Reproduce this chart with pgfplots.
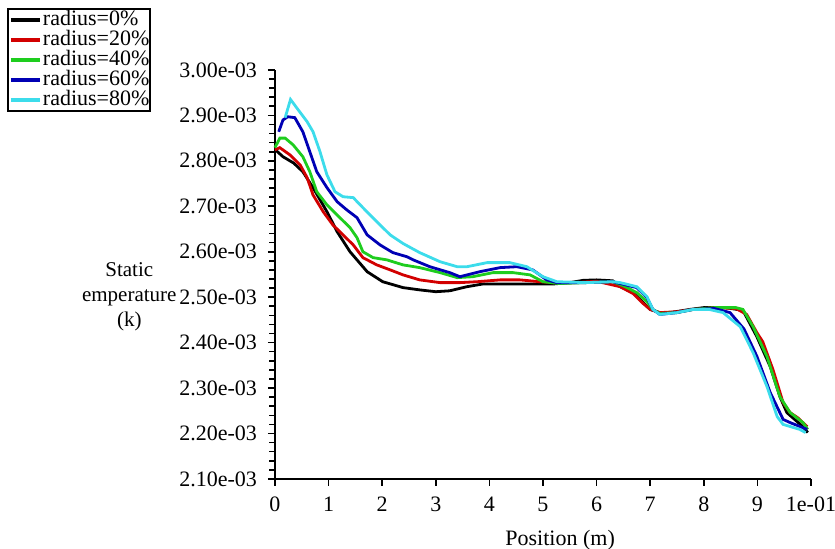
\documentclass[border=0pt]{standalone}
\usepackage{pgfplots}
\pgfplotsset{compat=1.18}
\usepackage{fontspec}
\setmainfont{Liberation Serif}
\definecolor{cRed}{RGB}{210,0,0}
\definecolor{cGreen}{RGB}{30,205,30}
\definecolor{cBlue}{RGB}{0,0,180}
\definecolor{cCyan}{RGB}{60,220,235}
\begin{document}
\begin{tikzpicture}
\begin{axis}[
  scale only axis,
  width=268pt, height=204.5pt,
  xmin=0, xmax=10, ymin=2.10, ymax=3.00,
  axis lines=left,
  axis line style={-, line width=1pt},
  tick align=outside,
  tick style={black, line width=0.8pt},
  major tick length=3.5pt,
  minor tick length=2.8pt,
  xtick={0,1,2,3,4,5,6,7,8,9,10},
  xticklabels={0,1,2,3,4,5,6,7,8,9,1e-01},
  ytick={2.1,2.2,2.3,2.4,2.5,2.6,2.7,2.8,2.9,3.0},
  yticklabels={2.10e-03,2.20e-03,2.30e-03,2.40e-03,2.50e-03,2.60e-03,2.70e-03,2.80e-03,2.90e-03,3.00e-03},
  minor y tick num=4,
  ticklabel style={font=\fontsize{11}{13}\selectfont},
  xticklabel style={yshift=-2pt},
  yticklabel style={xshift=-2pt},
  xlabel={Position (m)},
  xlabel style={font=\fontsize{11}{13}\selectfont, at={(rel axis cs:0.532,-0.149)}, anchor=center},
  ylabel={Static\\emperature\\(k)},
  ylabel style={font=\fontsize{10.5}{12.5}\selectfont, rotate=-90, align=center, at={(rel axis cs:-0.262,0.445)}, anchor=east, xshift=24.5pt},
  clip=false,
  legend cell align=left,
  legend style={at={(rel axis cs:-0.5,1.1516)}, anchor=north west, draw=black, line width=1pt,
    font=\fontsize{11}{12}\selectfont, inner sep=0.5pt, row sep=0pt,
    nodes={inner sep=0pt, text height=7.7pt, text depth=2.3pt},
    /tikz/every odd column/.style={column sep=0.5pt}},
  legend image code/.code={\draw[#1, line width=2pt] (0pt,0pt) -- (14.5pt,0pt);},
  every axis plot/.append style={line width=1.4pt},
]
\addplot[black] coordinates {(0,2.825) (0.15,2.809) (0.35,2.795) (0.52,2.776) (0.71,2.741) (0.97,2.688) (1.16,2.644) (1.40,2.600) (1.72,2.556) (2.01,2.534) (2.39,2.521) (2.70,2.516) (3.0,2.512) (3.26,2.514) (3.58,2.523) (3.88,2.529) (4.5,2.529) (5.19,2.529) (5.5,2.532) (5.75,2.537) (6.0,2.538) (6.3,2.536) (6.44,2.523) (6.68,2.510) (6.87,2.488) (7.0,2.473) (7.18,2.466) (7.37,2.466) (7.74,2.473) (8.0,2.477) (8.4,2.477) (8.73,2.471) (8.99,2.413) (9.24,2.347) (9.42,2.281) (9.55,2.246) (9.85,2.215) (9.94,2.202)};
\addlegendentry{radius=0\%}
\addplot[cRed] coordinates {(0,2.824) (0.09,2.829) (0.28,2.813) (0.47,2.791) (0.6,2.763) (0.71,2.725) (0.9,2.688) (1.08,2.659) (1.27,2.637) (1.46,2.615) (1.64,2.587) (1.9,2.571) (2.15,2.560) (2.39,2.549) (2.7,2.538) (3.08,2.532) (3.45,2.532) (3.77,2.534) (4.2,2.538) (4.57,2.538) (4.94,2.534) (5.19,2.532) (5.6,2.532) (6.0,2.535) (6.44,2.523) (6.68,2.508) (6.87,2.486) (7.0,2.473) (7.18,2.466) (7.5,2.468) (7.8,2.473) (8.2,2.477) (8.6,2.475) (8.8,2.462) (8.99,2.422) (9.1,2.402) (9.29,2.341) (9.48,2.268) (9.61,2.246) (9.75,2.235) (9.93,2.215)};
\addlegendentry{radius=20\%}
\addplot[cGreen] coordinates {(0,2.829) (0.09,2.85) (0.19,2.85) (0.34,2.835) (0.52,2.809) (0.65,2.776) (0.78,2.732) (0.97,2.703) (1.21,2.675) (1.4,2.653) (1.53,2.631) (1.64,2.600) (1.83,2.587) (2.09,2.582) (2.39,2.571) (2.7,2.565) (3.08,2.554) (3.4,2.543) (3.69,2.545) (4.07,2.554) (4.44,2.554) (4.76,2.549) (5.0,2.534) (5.3,2.530) (5.8,2.532) (6.3,2.534) (6.5,2.525) (6.75,2.51) (6.94,2.49) (7.05,2.473) (7.18,2.464) (7.5,2.466) (7.8,2.473) (8.2,2.477) (8.6,2.477) (8.73,2.473) (8.92,2.435) (9.18,2.369) (9.42,2.281) (9.61,2.246) (9.85,2.224) (9.94,2.209)};
\addlegendentry{radius=40\%}
\addplot[cBlue] coordinates {(0.07,2.864) (0.15,2.89) (0.24,2.897) (0.37,2.895) (0.52,2.864) (0.65,2.82) (0.78,2.776) (0.97,2.741) (1.16,2.71) (1.34,2.692) (1.53,2.675) (1.72,2.637) (1.96,2.615) (2.2,2.598) (2.46,2.589) (2.58,2.582) (2.89,2.567) (3.26,2.554) (3.45,2.545) (3.82,2.556) (4.2,2.565) (4.51,2.567) (4.81,2.560) (5.07,2.538) (5.26,2.532) (5.8,2.532) (6.3,2.534) (6.44,2.530) (6.75,2.521) (6.94,2.499) (7.05,2.473) (7.18,2.462) (7.5,2.466) (7.8,2.473) (8.2,2.475) (8.49,2.466) (8.75,2.43) (8.99,2.370) (9.24,2.290) (9.48,2.231) (9.61,2.224) (9.93,2.209)};
\addlegendentry{radius=60\%}
\addplot[cCyan] coordinates {(0.19,2.895) (0.29,2.935) (0.41,2.916) (0.6,2.886) (0.71,2.864) (0.84,2.82) (0.97,2.769) (1.12,2.732) (1.27,2.721) (1.46,2.719) (1.64,2.697) (1.9,2.666) (2.15,2.637) (2.39,2.618) (2.7,2.598) (3.08,2.578) (3.4,2.567) (3.58,2.567) (3.96,2.576) (4.38,2.576) (4.7,2.567) (5.0,2.545) (5.26,2.534) (5.8,2.532) (6.3,2.534) (6.44,2.532) (6.75,2.523) (6.94,2.501) (7.05,2.473) (7.18,2.462) (7.5,2.466) (7.8,2.473) (8.1,2.473) (8.36,2.466) (8.68,2.435) (8.92,2.378) (9.18,2.303) (9.37,2.237) (9.48,2.220) (9.79,2.209) (9.9,2.202)};
\addlegendentry{radius=80\%}
\coordinate (tl) at (rel axis cs:-0.513,1.171);
\coordinate (br) at (rel axis cs:1.0448,-0.171);
\end{axis}
\pgfresetboundingbox
\path[use as bounding box] (tl) rectangle (br);
\end{tikzpicture}
\end{document}
